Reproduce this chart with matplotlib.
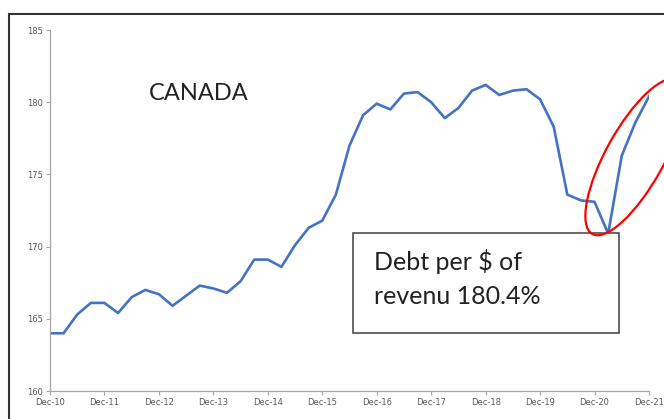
import matplotlib
matplotlib.use("Agg")
import matplotlib.pyplot as plt
from matplotlib.patches import Ellipse, Rectangle

# quarterly debt per $ of revenue, Dec-10 .. Dec-21
values = [
    164.0, 164.0, 165.3, 166.1, 166.1, 165.4, 166.5, 167.0, 166.7, 165.9,
    166.6, 167.3, 167.1, 166.8, 167.6, 169.1, 169.1, 168.6, 170.1, 171.3,
    171.8, 173.6, 177.0, 179.1, 179.9, 179.5, 180.6, 180.7, 180.0, 178.9,
    179.6, 180.8, 181.2, 180.5, 180.8, 180.9, 180.2, 178.3, 173.6, 173.2,
    173.1, 170.9, 176.3, 178.6, 180.4,
]
year_labels = ["Dec-10", "Dec-11", "Dec-12", "Dec-13", "Dec-14", "Dec-15",
               "Dec-16", "Dec-17", "Dec-18", "Dec-19", "Dec-20", "Dec-21"]
y_ticks = [160, 165, 170, 175, 180, 185]

W, H = 664, 419
fig = plt.figure(figsize=(W / 100, H / 100), dpi=100)

def fx(px):
    return px / W

def fy(py):
    return 1 - py / H

ax = fig.add_axes([fx(50), fy(391), fx(649) - fx(50), fy(30) - fy(391)])
xs = list(range(len(values)))
ax.plot(xs, values, color="#4472C4", lw=1.9, solid_joinstyle="round")

ax.set_xlim(0, len(values) - 1)
ax.set_ylim(160, 185)
ax.set_yticks(y_ticks)
ax.set_xticks(range(0, len(values), 4))
ax.set_xticklabels(year_labels)
for s in ("top", "right"):
    ax.spines[s].set_visible(False)
for s in ("left", "bottom"):
    ax.spines[s].set_color("#a6a6a6")
    ax.spines[s].set_linewidth(0.9)
ax.tick_params(axis="both", colors="#a6a6a6", length=3, width=0.8,
               labelsize=6, labelcolor="#595959", pad=2)

# outer chart frame
fig.patches.append(Rectangle((fx(9), fy(430)), 1.0, fy(14) - fy(430),
                             transform=fig.transFigure, fill=False,
                             edgecolor="#333333", lw=1.5))

fig.text(fx(199), fy(94), "CANADA", fontsize=17, family="Lato",
         color="#222222", ha="center", va="center")

# annotation box
fig.patches.append(Rectangle((fx(353), fy(333)), fx(619) - fx(353),
                             fy(233) - fy(333), transform=fig.transFigure,
                             facecolor="white", edgecolor="#404040", lw=1.1,
                             zorder=3))
fig.text(fx(374), fy(262), "Debt per $ of", fontsize=18, family="Lato",
         color="#222222", ha="left", va="center", zorder=4)
fig.text(fx(374), fy(297), "revenu 180.4%", fontsize=18, family="Lato",
         color="#222222", ha="left", va="center", zorder=4)

# red ring around the recent rebound (sized in inches so the tilt stays true)
fig.patches.append(Ellipse((6.35, (H - 157) / 100), 1.76, 0.58, angle=61,
                           transform=fig.dpi_scale_trans, fill=False,
                           edgecolor="red", lw=1.6, zorder=5))

fig.savefig("out.png", dpi=100)
